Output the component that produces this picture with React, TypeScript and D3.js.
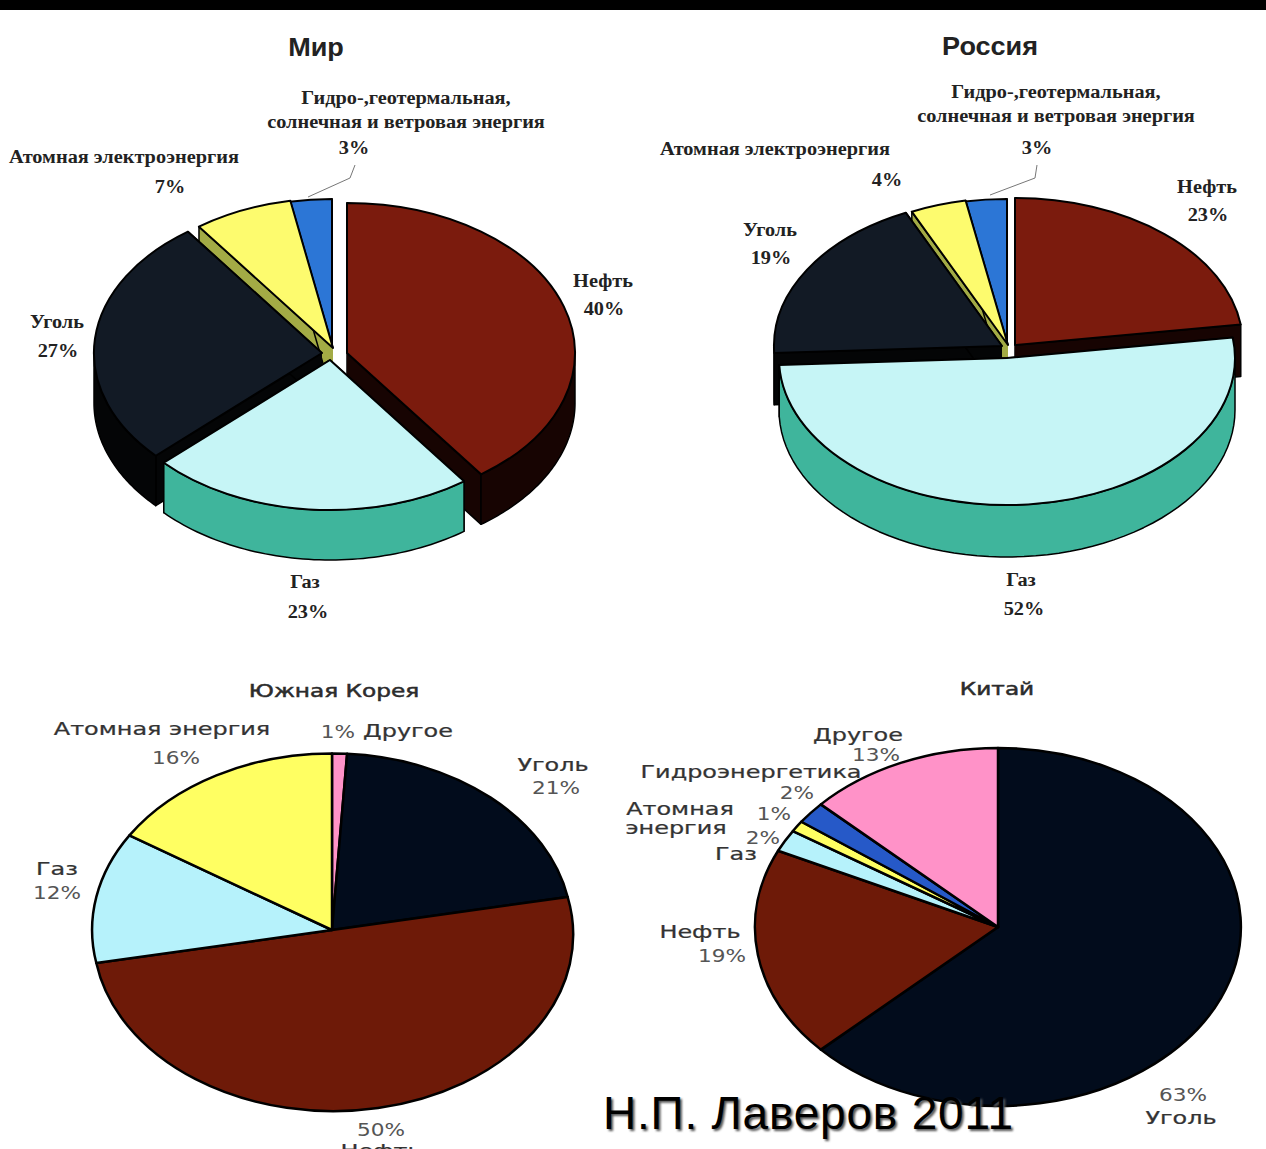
import React from "react";
import * as d3 from "d3";

// Energy mix by country: shares in percent, clockwise from 12 o'clock.
const worldCategories = ["Нефть", "Газ", "Уголь", "Атомная", "Гидро"];
const worldValues = [40, 23, 27, 7, 3];
const russiaCategories = ["Нефть", "Газ", "Уголь", "Атомная", "Гидро"];
const russiaValues = [23, 52, 19, 4, 3];
const koreaCategories = ["Другое", "Уголь", "Нефть", "Газ", "Атомная"];
const koreaValues = [1, 21, 50, 12, 16];
const chinaCategories = ["Уголь", "Нефть", "Газ", "Атомная", "Гидро", "Другое"];
const chinaValues = [63, 19, 2, 1, 2, 13];

const topColors: Record<string, string> = {
  "Нефть": "#7b1b0d", "Газ": "#c6f5f6", "Уголь": "#121a25", "Атомная": "#fdfb6e", "Гидро": "#2c76d6",
};
const wallColors: Record<string, string> = {
  "Нефть": "#170402", "Газ": "#3fb59c", "Уголь": "#040506", "Атомная": "#a3ab45", "Гидро": "#050505",
};
const flatColors: Record<string, string> = {
  "Нефть": "#6e1a08", "Газ": "#b6f2fb", "Уголь": "#020c1c", "Атомная": "#ffff62", "Гидро": "#2659c8", "Другое": "#ff92c8",
};

type Origin = { x: number; y: number };

const slices = (values: number[]) => d3.pie<number>().sort(null).value((d) => d)(values);
const unitArc = d3.arc<d3.PieArcDatum<number>>().innerRadius(0).outerRadius(1);
const polygon = d3.line<[number, number]>();

// Pie with pulled-apart slices and a vertical extrusion below each one.
function Exploded({ categories, values, origins, paintOrder, rx, ry, depth }: {
  categories: string[]; values: number[]; origins: Origin[]; paintOrder: number[]; rx: number; ry: number; depth: number;
}) {
  const arcs = slices(values);
  return (
    <g>
      {paintOrder.map((i) => {
        const a = arcs[i];
        const o = origins[i];
        const rim = (t: number): [number, number] => [o.x + rx * Math.sin(t), o.y - ry * Math.cos(t)];
        const down = ([x, y]: [number, number]): [number, number] => [x, y + depth];
        const from = Math.max(a.startAngle, Math.PI / 2);
        const to = Math.min(a.endAngle, (3 * Math.PI) / 2);
        const samples = d3.range(0, 61).map((k) => from + ((to - from) * k) / 60);
        const strip = from < to ? samples.map(rim).concat(samples.map(rim).map(down).reverse()) : null;
        const cut = (t: number): [number, number][] => {
          const apex: [number, number] = [o.x, o.y];
          return [apex, rim(t), down(rim(t)), down(apex)];
        };
        const wall = wallColors[categories[i]];
        return (
          <g key={categories[i]} stroke="#000" strokeLinejoin="round">
            <path d={polygon(cut(a.startAngle))!} fill={wall} strokeWidth={1.5} />
            <path d={polygon(cut(a.endAngle))!} fill={wall} strokeWidth={1.5} />
            {strip && <path d={polygon(strip)! + "Z"} fill={wall} strokeWidth={1.5} />}
            <path
              d={unitArc(a)!}
              transform={`translate(${o.x},${o.y}) scale(${rx},${ry})`}
              fill={topColors[categories[i]]}
              strokeWidth={2}
              vectorEffect="non-scaling-stroke"
            />
          </g>
        );
      })}
    </g>
  );
}

function FlatPie({ categories, values, cx, cy, rx, ry }: {
  categories: string[]; values: number[]; cx: number; cy: number; rx: number; ry: number;
}) {
  return (
    <g transform={`translate(${cx},${cy}) scale(${rx},${ry})`}>
      {slices(values).map((a, i) => (
        <path
          key={categories[i]}
          d={unitArc(a)!}
          fill={flatColors[categories[i]]}
          stroke="#000"
          strokeWidth={2.5}
          strokeLinejoin="round"
          vectorEffect="non-scaling-stroke"
        />
      ))}
    </g>
  );
}

type Label = [string, number, number];

const printedLabels: Label[] = [
  ["Гидро-,геотермальная,", 406, 97],
  ["солнечная и ветровая энергия", 406, 121],
  [`${worldValues[4]}%`, 354, 147],
  ["Атомная электроэнергия", 124, 156],
  [`${worldValues[3]}%`, 170, 186],
  ["Нефть", 603, 280],
  [`${worldValues[0]}%`, 604, 308],
  ["Уголь", 57, 321],
  [`${worldValues[2]}%`, 58, 350],
  ["Газ", 305, 581],
  [`${worldValues[1]}%`, 308, 611],
  ["Гидро-,геотермальная,", 1056, 91],
  ["солнечная и ветровая энергия", 1056, 115],
  [`${russiaValues[4]}%`, 1037, 147],
  ["Атомная электроэнергия", 775, 148],
  [`${russiaValues[3]}%`, 887, 179],
  ["Нефть", 1207, 186],
  [`${russiaValues[0]}%`, 1208, 214],
  ["Уголь", 770, 229],
  [`${russiaValues[2]}%`, 771, 257],
  ["Газ", 1021, 579],
  [`${russiaValues[1]}%`, 1024, 608],
];

const screenNames: Label[] = [
  ["Атомная энергия", 162, 729],
  ["Другое", 408, 731],
  ["Уголь", 553, 765],
  ["Газ", 57, 869],
  ["Нефть", 381, 1151],
  ["Другое", 858, 735],
  ["Гидроэнергетика", 751, 772],
  ["Атомная", 680, 809],
  ["энергия", 676, 828],
  ["Газ", 736, 854],
  ["Нефть", 700, 932],
  ["Уголь", 1181, 1118],
];

const screenShares: Label[] = [
  [`${koreaValues[4]}%`, 176, 758],
  [`${koreaValues[0]}%`, 338, 732],
  [`${koreaValues[1]}%`, 556, 788],
  [`${koreaValues[3]}%`, 57, 893],
  [`${koreaValues[2]}%`, 381, 1130],
  [`${chinaValues[5]}%`, 876, 755],
  [`${chinaValues[4]}%`, 797, 793],
  [`${chinaValues[3]}%`, 774, 814],
  [`${chinaValues[2]}%`, 763, 838],
  [`${chinaValues[1]}%`, 722, 956],
  [`${chinaValues[0]}%`, 1183, 1095],
];

const worldOrigins: Origin[] = [
  { x: 347, y: 353 }, { x: 330, y: 360 }, { x: 322, y: 353 }, { x: 333, y: 348 }, { x: 332, y: 349 },
];
const russiaOrigins: Origin[] = [
  { x: 1015, y: 345 }, { x: 1007, y: 358 }, { x: 1002, y: 346 }, { x: 1008, y: 345 }, { x: 1007, y: 346 },
];

const leader = d3.line<[number, number]>();
const worldLeader: [number, number][] = [[355, 165], [350, 178], [308, 197]];
const russiaLeader: [number, number][] = [[1037, 165], [1035, 178], [990, 195]];

const stretched = (x: number, y: number, sx: number) => `translate(${x},${y}) scale(${sx},1)`;

export default function App() {
  return (
    <svg width={1266} height={1149} style={{ position: "absolute", left: 0, top: 0, display: "block" }}>
      <defs>
        <filter id="soft-shadow" x="-5%" y="-20%" width="110%" height="140%">
          <feGaussianBlur stdDeviation="1" />
        </filter>
      </defs>
      <rect width={1266} height={1149} fill="#fff" />
      <rect width={1266} height={10} fill="#000" />

      <Exploded categories={worldCategories} values={worldValues} origins={worldOrigins} paintOrder={[4, 3, 2, 0, 1]} rx={228} ry={150} depth={50} />
      <Exploded categories={russiaCategories} values={russiaValues} origins={russiaOrigins} paintOrder={[4, 3, 2, 0, 1]} rx={228} ry={147} depth={52} />
      <FlatPie categories={koreaCategories} values={koreaValues} cx={332} cy={930} rx={240} ry={176.5} />
      <FlatPie categories={chinaCategories} values={chinaValues} cx={998} cy={927} rx={243} ry={179} />

      <path d={leader(worldLeader)!} fill="none" stroke="#777" strokeWidth={1} />
      <path d={leader(russiaLeader)!} fill="none" stroke="#777" strokeWidth={1} />

      <g fontFamily="'Liberation Sans', sans-serif" fontWeight={700} fontSize={26} fill="#222" textAnchor="middle">
        <text transform={stretched(316, 47, 1.04)} dy=".35em">Мир</text>
        <text transform={stretched(990, 46, 1.04)} dy=".35em">Россия</text>
      </g>
      <g fontFamily="'Liberation Serif', serif" fontWeight={700} fontSize={19} fill="#222" textAnchor="middle">
        {printedLabels.map(([t, x, y], i) => (
          <text key={i} transform={stretched(x, y, 1.07)} dy=".35em">{t}</text>
        ))}
      </g>
      <g fontFamily="'DejaVu Sans', sans-serif" fontSize={18} textAnchor="middle">
        <g fill="#2c2c2c" stroke="#2c2c2c" strokeWidth={0.5}>
          <text transform={stretched(334, 691, 1.29)} dy=".35em">Южная Корея</text>
          <text transform={stretched(997, 689, 1.29)} dy=".35em">Китай</text>
        </g>
        <g fill="#333" stroke="#333" strokeWidth={0.25}>
          {screenNames.map(([t, x, y], i) => (
            <text key={i} transform={stretched(x, y, 1.33)} dy=".35em">{t}</text>
          ))}
        </g>
        <g fill="#555">
          {screenShares.map(([t, x, y], i) => (
            <text key={i} transform={stretched(x, y, 1.2)} dy=".35em">{t}</text>
          ))}
        </g>
      </g>
      <g fontFamily="'Liberation Sans', sans-serif" fontSize={46} letterSpacing={0.8}>
        <text x={605} y={1131} fill="#555" filter="url(#soft-shadow)">Н.П. Лаверов 2011</text>
        <text x={603} y={1129} fill="#000">Н.П. Лаверов 2011</text>
      </g>
    </svg>
  );
}
